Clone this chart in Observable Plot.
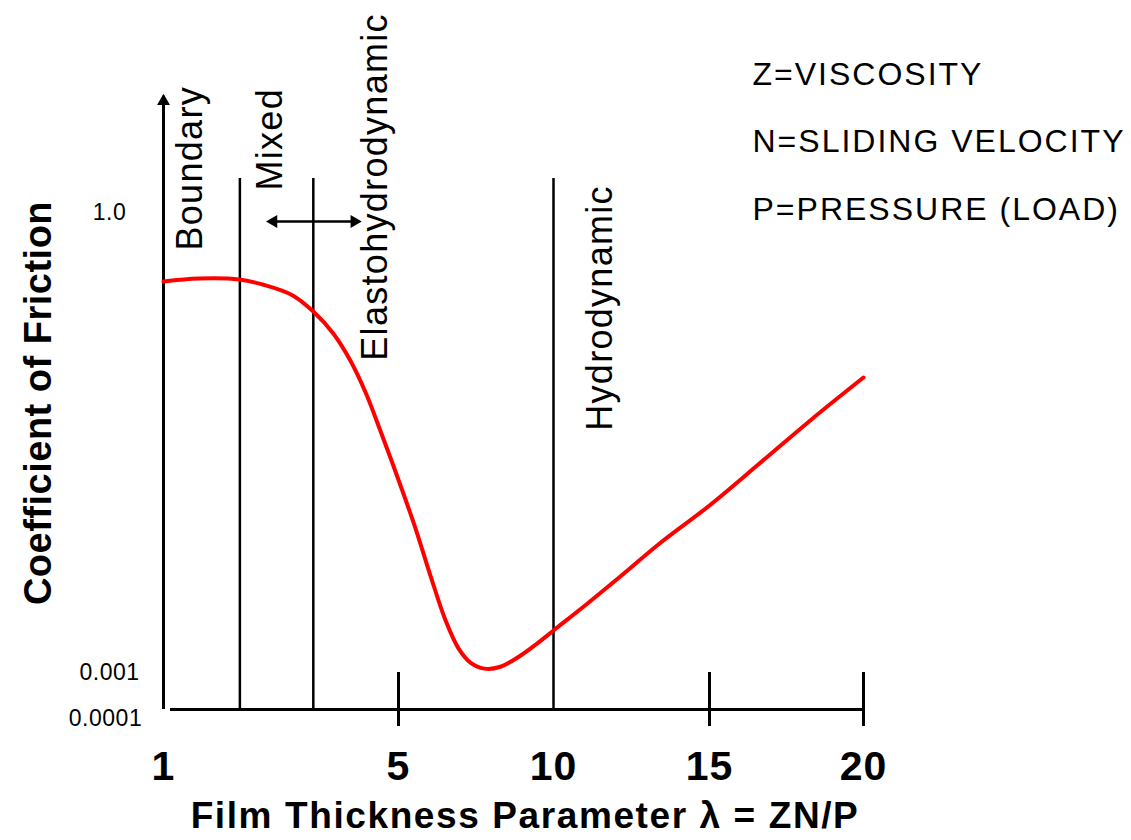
<!DOCTYPE html>
<html>
<head>
<meta charset="utf-8">
<script src="https://cdn.jsdelivr.net/npm/d3@7"></script>
<script src="https://cdn.jsdelivr.net/npm/@observablehq/plot@0.6"></script>
<style>
  html, body { margin: 0; padding: 0; background: #fff; }
  #chart svg { display: block; }
</style>
</head>
<body>
<div id="chart"></div>
<script>
// ---- data ----
const lambda   = [1, 1.6, 2.29, 2.69, 3.2, 3.55, 3.89, 4.18, 4.44, 4.69, 5.03, 5.55, 6.03, 6.52, 6.94, 7.32, 7.77, 8.29, 8.94, 9.48, 10, 11.09, 12.18, 13.4, 15, 16.66, 18.35, 20];
const friction = [0.355, 0.371, 0.366, 0.339, 0.288, 0.226, 0.1625, 0.1083, 0.067, 0.0379, 0.01734, 0.00869, 0.00429, 0.00218, 0.00143, 0.00116, 0.00106, 0.00109, 0.00129, 0.00155, 0.00188, 0.00282, 0.00429, 0.00694, 0.01228, 0.0234, 0.0454, 0.0839];

const xTickValues = [1, 5, 10, 15, 20];
const xTickMarks  = [5, 15, 20];
const yTickValues = [1, 0.001];
const yTickLabels = ["1.0", "0.001"];
const yBaseValue  = 0.0001;
const yBaseLabel  = "0.0001";

const regimeBoundaries = [2.3, 3.55, 10];
const regimeTop        = 1.667;
const regimeLabels     = ["Boundary", "Mixed", "Elastohydrodynamic", "Hydrodynamic"];
const regimeLabelX     = [1.46, 2.82, 4.61, 11.5];
const regimeLabelY     = [0.565, 1.39, 0.108, 0.0377];

const axisTop    = 5;        // top of the y-axis arrow
const arrowY     = 0.874;    // double arrow in the mixed regime
const arrowFrom  = 2.77;
const arrowTo    = 4.35;

const keyLines = ["Z=VISCOSITY", "N=SLIDING VELOCITY", "P=PRESSURE (LOAD)"];
const xTitle = "Film Thickness Parameter \u03bb = ZN/P";
const yTitle = "Coefficient of Friction";

// schematic (piecewise) scales, as in the original drawing
const xBreaks   = [1, 5, 10, 15, 20];
const xBreakPx  = [163, 398, 553, 709, 863];
const yBreaks   = [0.0001, 0.001, 1];
const yBreakPx  = [709, 672, 212];

const curve = lambda.map((x, i) => ({x, f: friction[i]}));
const xMin = xBreaks[0], xMax = xBreaks[xBreaks.length - 1];

const svg = Plot.plot({
  width: 1131,
  height: 840,
  marginTop: 0,
  marginLeft: 0,
  marginRight: 0,
  marginBottom: 131,
  style: {fontFamily: "Arial, 'Liberation Sans', sans-serif", background: "#fff", color: "#000", overflow: "visible"},
  x: {type: "linear", domain: xBreaks, range: xBreakPx, axis: null},
  y: {type: "log", domain: yBreaks, range: yBreakPx, axis: null},
  marks: [
    // regime boundary lines
    Plot.ruleX(regimeBoundaries, {y1: yBaseValue, y2: regimeTop, stroke: "#000", strokeWidth: 2.5}),
    // x-axis baseline and ticks
    Plot.ruleY([yBaseValue], {x1: xMin, x2: xMax, insetLeft: 7, stroke: "#000", strokeWidth: 3}),
    Plot.ruleX(xTickMarks, {y1: yBaseValue, y2: yBreaks[1], insetTop: 17, stroke: "#000", strokeWidth: 3}),
    // y-axis with arrow head
    Plot.ruleX([xMin], {y1: yBaseValue, y2: axisTop, insetBottom: 9, stroke: "#000", strokeWidth: 3}),
    Plot.dot([xMin], {x: d => d, y: () => axisTop, symbol: "triangle", r: 4.8, fill: "#000", stroke: null, dy: -4}),
    // double arrow
    Plot.ruleY([arrowY], {x1: arrowFrom, x2: arrowTo, insetLeft: 5, insetRight: 5, stroke: "#000", strokeWidth: 2.5}),
    Plot.dot([arrowFrom], {x: d => d, y: () => arrowY, symbol: "triangle", r: 4.8, rotate: -90, fill: "#000", stroke: null, dx: 6}),
    Plot.dot([arrowTo], {x: d => d, y: () => arrowY, symbol: "triangle", r: 4.8, rotate: 90, fill: "#000", stroke: null, dx: -6}),
    // friction curve
    Plot.line(curve, {x: "x", y: "f", stroke: "#ff0000", strokeWidth: 4, curve: "catmull-rom"}),
    // regime labels
    Plot.text(regimeLabels, {x: (d, i) => regimeLabelX[i], y: (d, i) => regimeLabelY[i], text: d => d, rotate: -90, textAnchor: "start", fontSize: 36, fill: "#000"}),
    // x tick labels
    Plot.text(xTickValues, {x: d => d, text: d => String(d), frameAnchor: "bottom", dy: 70, fontSize: 41, fontWeight: "bold", fill: "#000"}),
    // y tick labels
    Plot.text(yTickValues, {x: () => xMin, y: d => d, text: (d, i) => yTickLabels[i], dx: -54, textAnchor: "middle", fontSize: 23, fill: "#000"}),
    Plot.text([yBaseValue], {x: () => xMin, y: d => d, text: () => yBaseLabel, dx: -58, dy: 9, textAnchor: "middle", fontSize: 23, fill: "#000"}),
    // axis titles
    Plot.text([yTitle], {frameAnchor: "left", textAnchor: "middle", dx: 38, dy: 48, rotate: -90, fontSize: 38, fontWeight: "bold", fill: "#000"}),
    Plot.text([xTitle], {frameAnchor: "bottom", dx: -41, dy: 118, fontSize: 37, fontWeight: "bold", fill: "#000"}),
    // key
    Plot.text([keyLines.join("\n")], {frameAnchor: "top-left", dx: 752, dy: 37, textAnchor: "start", lineAnchor: "top", lineHeight: 2.1, fontSize: 32, fill: "#000"})
  ]
});

// letter spacing per text size (matches the wide tracking of the original)
const spacing = {"23": "0.5px", "32": "2px", "36": "1.3px", "37": "1.6px", "38": "0.5px", "41": "1px"};
svg.querySelectorAll("g[font-size]").forEach(g => {
  const s = spacing[g.getAttribute("font-size")];
  if (s != null) g.setAttribute("letter-spacing", s);
});

document.getElementById("chart").appendChild(svg);
</script>
</body>
</html>
